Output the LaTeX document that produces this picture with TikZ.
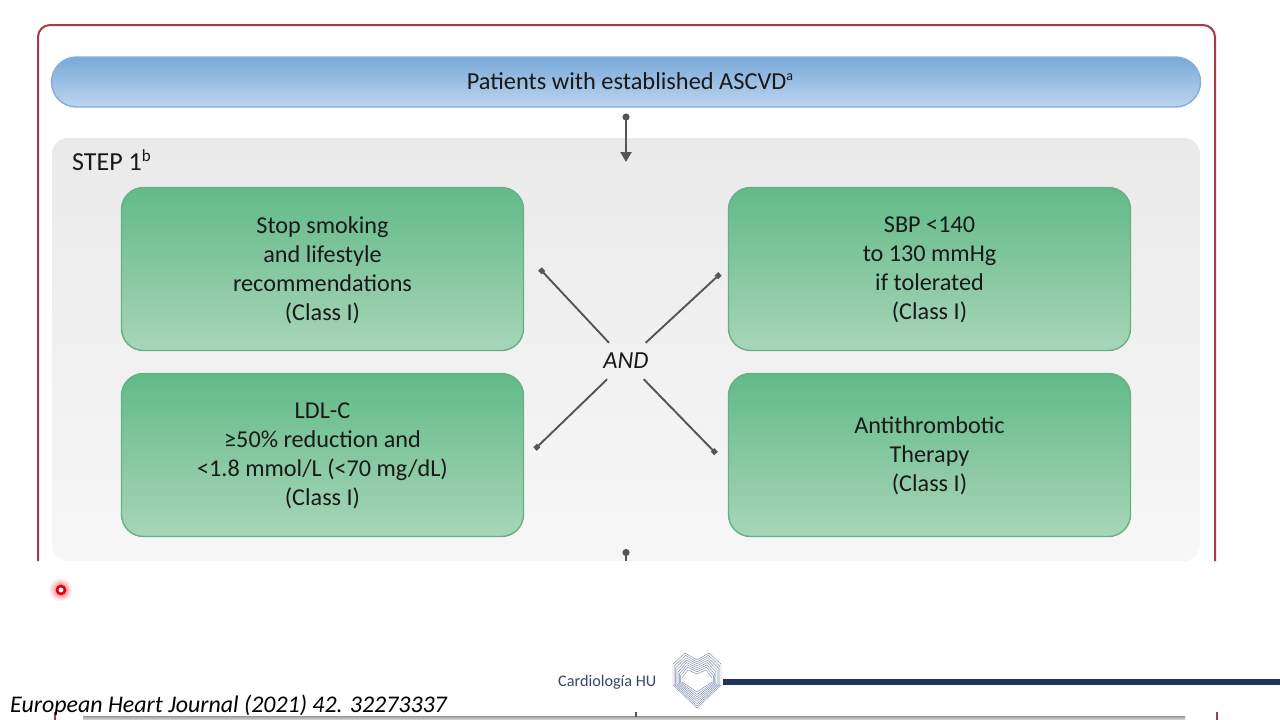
\documentclass[tikz,border=0pt]{standalone}
\usepackage{fontspec}
\setmainfont{Carlito}
\usetikzlibrary{arrows.meta}
\definecolor{framered}{HTML}{A63A46}
\definecolor{bartop}{HTML}{78A9D8}
\definecolor{barbot}{HTML}{BDD5EF}
\definecolor{baredge}{HTML}{86ADD8}
\definecolor{greentop}{HTML}{62BA87}
\definecolor{greenbot}{HTML}{A8D5B8}
\definecolor{greenedge}{HTML}{66B184}
\definecolor{paneltop}{HTML}{EAEAEA}
\definecolor{panelbot}{HTML}{F7F7F7}
\definecolor{conn}{HTML}{555555}
\definecolor{navy}{HTML}{1F3358}
\definecolor{logoline}{HTML}{7F8FB0}
\newcommand{\upmark}[2]{\raisebox{.75ex}{\fontsize{#1}{#1}\selectfont #2}}
\tikzset{
  greenbox/.style={draw=greenedge,line width=1.4pt,rounded corners=22pt,minimum width=402pt,minimum height=163pt,
    top color=greentop,bottom color=greenbot,inner sep=0pt},
  boxtext/.style={inner sep=0pt,text=black!90,align=center,font=\fontsize{24.2}{29}\selectfont},
  xline/.style={draw=conn,line width=1.9pt,{Square[length=5pt,width=5pt]}-},
  vline/.style={draw=conn,line width=2pt}
}
\begin{document}
\begin{tikzpicture}[x=1pt,y=-1pt]
\useasboundingbox (0,0) rectangle (1280,720);
\fill[white] (0,0) rectangle (1280,720);
% frame
\coordinate (fa) at (38,561); \coordinate (fb) at (38,25); \coordinate (fc) at (1215,25); \coordinate (fd) at (1215,561);
\draw[framered,line width=2pt,rounded corners=12pt] (fa) -- (fb) -- (fc) -- (fd);
% panel
\node[rounded corners=16pt,top color=paneltop,bottom color=panelbot,minimum width=1148pt,minimum height=423pt,inner sep=0pt] (panel) at (626,349.5) {};
% top bar
\node[draw=baredge,line width=1.4pt,rounded corners=25pt,top color=bartop,bottom color=barbot,minimum width=1149pt,minimum height=50pt,inner sep=0pt] (bar) at (626,82) {};
\node[inner sep=0pt,text=black!90,font=\fontsize{24.4}{28}\selectfont] (bartext) at (630,81) {Patients with established ASCVD\upmark{14}{a}};
\node[anchor=west,inner sep=0pt,text=black!90,font=\fontsize{26}{28}\selectfont] (step) at (72,160.5) {STEP 1\upmark{17}{b}};
% boxes
\node[greenbox] (b1) at (322.5,269) {};
\node[greenbox] (b2) at (929.5,269) {};
\node[greenbox] (b3) at (322.5,455) {};
\node[greenbox] (b4) at (929.5,455) {};
\node[boxtext] (t1) at (322.5,270) {Stop smoking\\and lifestyle\\recommendations\\(Class I)};
\node[boxtext] (t2) at (929.5,270) {SBP <140\\to 130 mmHg\\if tolerated\\(Class I)};
\node[boxtext] (t3) at (322.5,456) {LDL-C\\≥50\% reduction and\\<1.8 mmol/L (<70 mg/dL)\\(Class I)};
\node[boxtext] (t4) at (929.5,456) {Antithrombotic\\Therapy\\(Class I)};
% AND
\node[minimum width=46pt,minimum height=36pt,inner sep=0pt,text=black!90,font=\fontsize{24.5}{28}\selectfont\itshape] (and) at (626,361) {AND};
\coordinate (nw) at (540,269); \coordinate (ne) at (720,274); \coordinate (sw) at (535,449); \coordinate (se) at (716,453.5);
\draw[xline] (nw) -- (and);
\draw[xline] (ne) -- (and);
\draw[xline] (sw) -- (and);
\draw[xline] (se) -- (and);
% top arrow
\coordinate (ta) at (626,113.5); \coordinate (tb) at (626,162);
\draw[vline,{Circle[length=7pt,width=7pt]}-{Triangle[length=10pt,width=11pt]}] (ta) -- (tb);
\coordinate (ba) at (626,549); \coordinate (bb) at (626,561);
\draw[vline,{Circle[length=7pt,width=7pt]}-] (ba) -- (bb);
% lower fragments
\coordinate (l1a) at (636,712); \coordinate (l1b) at (636,717);
\coordinate (l2a) at (55,712); \coordinate (l2b) at (55,720);
\coordinate (l3a) at (1217,712); \coordinate (l3b) at (1217,720);
\fill[top color=black!40,bottom color=black!12] (83,716) rectangle (1185,720);
\draw[conn,line width=1.5pt] (l1a) -- (l1b);
\draw[framered,line width=2pt] (l2a) -- (l2b);
\draw[framered,line width=2pt] (l3a) -- (l3b);
% pointer
\foreach \r/\o in {11.5/.06,10/.08,8.5/.1,7/.14}{\fill[red,opacity=\o] (61,590) circle (\r pt);}
\node[circle,draw={rgb,255:red,225;green,0;blue,20},line width=2.6pt,fill=white,minimum size=8pt,inner sep=0pt] (dot) at (61,590) {};
% citation
\begin{scope}
\clip (0,690) rectangle (1280,714);
\node[anchor=base west,inner sep=0pt,font=\fontsize{23.9}{28}\selectfont\itshape] (cite) at (10,712.5) {European Heart Journal (2021) 42. 32273337};
\end{scope}
% logo
\node[anchor=base west,inner sep=0pt,text=navy!90,font=\fontsize{16.2}{20}\selectfont] (brand) at (558,686) {Cardiología HU};
\foreach \t in {0,.14,.28,.42,.56,.7,.84,1}{
  \draw[logoline,line width=.45pt]
    ({697-12+3*\t},{680-27+17*\t}) -- ({697},{680-20+14*\t}) -- ({697+12-3*\t},{680-27+17*\t})
    -- ({697+24-9*\t},{680-16+14*\t}) -- ({697+24-9*\t},{680+5-3*\t}) -- ({697},{680+28-16*\t})
    -- ({697-24+9*\t},{680+5-3*\t}) -- ({697-24+9*\t},{680-16+14*\t}) -- cycle;
}
\fill[navy] (723,679) rectangle (1280,685);
\end{tikzpicture}
\end{document}
